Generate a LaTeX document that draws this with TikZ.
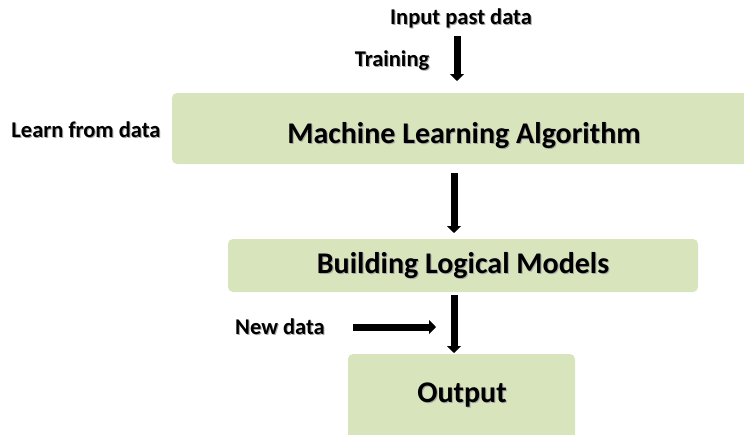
\documentclass[tikz,border=0pt]{standalone}
\usepackage{fontspec}
\setmainfont{Carlito}
\usetikzlibrary{arrows.meta}
\definecolor{boxgreen}{HTML}{D8E4BC}
% text with a soft grey drop shadow
\newcommand\shtext[1]{\rlap{\hspace{1pt}\raisebox{-1pt}{\color{black!35}#1}}#1}
\tikzset{
  stage/.style={fill=boxgreen, rounded corners=5pt, draw=none},
  label/.style={font=\bfseries\fontsize{22.5}{26}\selectfont, text=black, inner sep=0pt, anchor=base},
  title/.style={font=\bfseries\fontsize{30}{34}\selectfont, text=black, inner sep=0pt, anchor=base},
  flow/.style={line width=7pt, -{Triangle[width=14pt,length=7pt]}},
}
\begin{document}
\begin{tikzpicture}[x=1pt,y=-1pt]
\useasboundingbox (0,0) rectangle (744,434);
% stage boxes
\fill[stage] (172,93) rectangle (752,164);
\node[title] (mla) at (464,143) {\shtext{Machine Learning Algorithm}};
\fill[stage] (228,239) rectangle (698,292);
\node[title] (blm) at (463,273) {\shtext{Building Logical Models}};
\fill[stage] (348,354) rectangle (575,442);
\node[title] (out) at (462,402) {\shtext{Output}};
% side labels
\node[label] (input) at (461,24) {\shtext{Input past data}};
\node[label] (train) at (392,66) {\shtext{Training}};
\node[label] (learn) at (86,137) {\shtext{Learn from data}};
\node[label] (newd) at (280,334) {\shtext{New data}};
% arrow end points
\coordinate (a1s) at (457,36);  \coordinate (a1e) at (457,81);
\coordinate (a2s) at (454,173); \coordinate (a2e) at (454,233);
\coordinate (a3s) at (454,295); \coordinate (a3e) at (454,353);
\coordinate (a4s) at (353,327); \coordinate (a4e) at (436,327);
% flow arrows
\draw[flow] (a1s) -- (a1e);
\draw[flow] (a2s) -- (a2e);
\draw[flow] (a3s) -- (a3e);
\draw[flow] (a4s) -- (a4e);
\end{tikzpicture}
\end{document}
